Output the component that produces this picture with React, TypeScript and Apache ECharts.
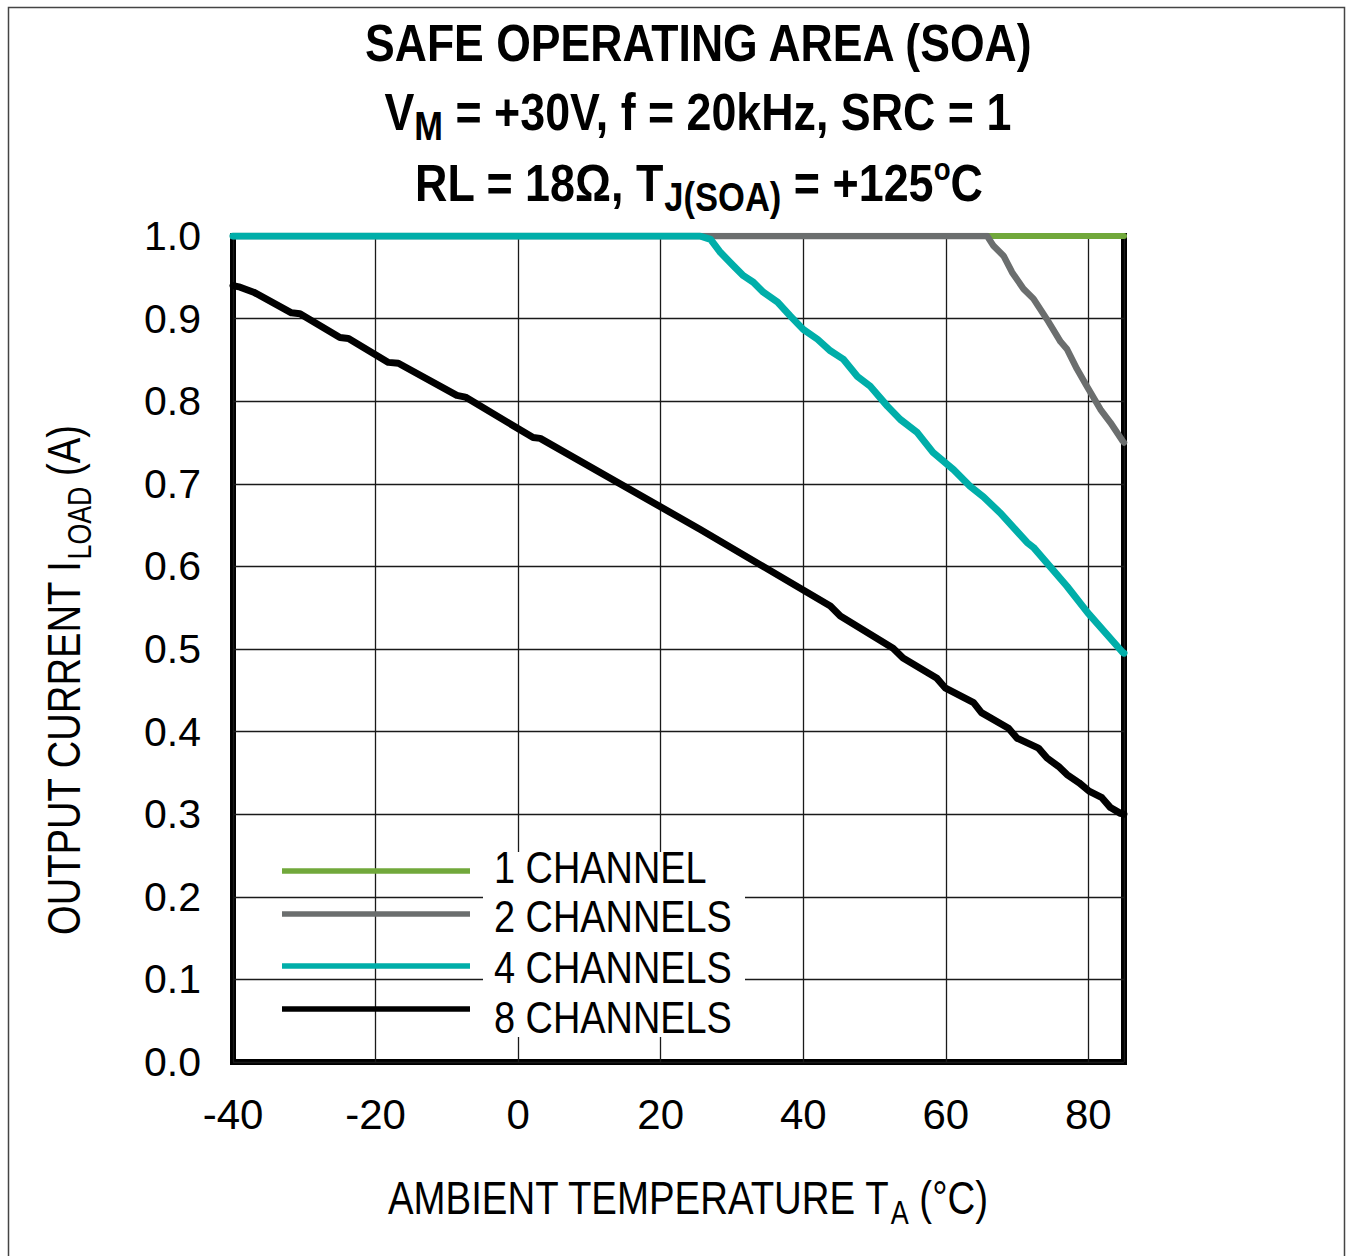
import React, { useEffect, useRef } from "react";
import * as echarts from "echarts";

// ---------- data ----------
const ch1T = [-40, 85];
const ch1I = [1.0, 1.0];

const ch2T = [-40, 65.8, 66.7, 68.1, 69.3, 70.9, 72.3, 74.2, 76.1, 77.0, 78.4, 79.8, 81.7, 83.1, 84.8, 85];
const ch2I = [1.0, 1.0, 0.988, 0.976, 0.956, 0.936, 0.924, 0.899, 0.872, 0.863, 0.839, 0.818, 0.79, 0.774, 0.752, 0.75];

const ch4T = [-40, 25.5, 27.0, 28.4, 30.2, 31.6, 33.0, 34.4, 36.4, 38.2, 40.0, 42.0, 43.8, 45.6, 47.6, 49.4, 51.8, 53.6, 56.0, 58.2, 61.1, 63.4, 65.3, 67.6, 71.4, 72.3, 77.0, 79.9, 84.8, 85];
const ch4I = [1.0, 1.0, 0.996, 0.98, 0.964, 0.952, 0.944, 0.932, 0.92, 0.903, 0.887, 0.875, 0.861, 0.851, 0.83, 0.818, 0.794, 0.778, 0.762, 0.738, 0.717, 0.697, 0.684, 0.665, 0.629, 0.623, 0.576, 0.544, 0.496, 0.495];

const ch8T = [-40, -39.0, -37.1, -31.8, -30.6, -25.0, -23.8, -18.2, -16.8, -8.6, -7.4, 2.1, 3.1, 25.5, 43.8, 45.2, 52.6, 54.0, 58.7, 59.9, 63.9, 65.0, 68.8, 70.0, 73.0, 74.2, 75.8, 77.0, 78.7, 80.1, 81.9, 83.1, 84.5, 85];
const ch8I = [0.94, 0.938, 0.932, 0.907, 0.906, 0.877, 0.876, 0.847, 0.846, 0.807, 0.805, 0.756, 0.755, 0.645, 0.552, 0.54, 0.501, 0.489, 0.465, 0.453, 0.435, 0.423, 0.404, 0.392, 0.38, 0.368, 0.358, 0.348, 0.338, 0.328, 0.32, 0.308, 0.301, 0.3];

const seriesNames = ["1 CHANNEL", "2 CHANNELS", "4 CHANNELS", "8 CHANNELS"];
const seriesColors = ["#71A83B", "#6B6E6E", "#00AEA9", "#000000"];
const seriesWidths = [6, 6.5, 7, 7];
const seriesT = [ch1T, ch2T, ch4T, ch8T];
const seriesI = [ch1I, ch2I, ch4I, ch8I];

const X_MIN = -40;
const X_MAX = 85;
const X_STEP = 20;
const Y_MIN = 0;
const Y_MAX = 1;
const Y_STEP = 0.1;

// ---------- fonts ----------
const FONT = "'Liberation Sans', Arial, Helvetica, sans-serif";

type Seg = { t: string; size: number; bold?: boolean; dy?: number };

function measure(ctx: CanvasRenderingContext2D, s: Seg) {
  ctx.font = `${s.bold ? "bold " : ""}${s.size}px ${FONT}`;
  return ctx.measureText(s.t).width;
}

// A line of text pieces, centred at (cx, cy), squeezed horizontally to targetW.
function buildLine(ctx: CanvasRenderingContext2D, segs: Seg[], cx: number, cy: number, targetW: number, rotation = 0) {
  const widths = segs.map((s) => measure(ctx, s));
  const total = widths.reduce((a, b) => a + b, 0);
  let x = -total / 2;
  const children = segs.map((s, i) => {
    const el = {
      type: "text",
      x,
      y: s.dy || 0,
      style: {
        text: s.t,
        fontSize: s.size,
        fontFamily: FONT,
        fontWeight: s.bold ? "bold" : "normal",
        fill: "#000",
        align: "left",
        verticalAlign: "middle",
      },
    };
    x += widths[i];
    return el;
  });
  return {
    type: "group",
    x: cx,
    y: cy,
    z: 10,
    rotation,
    children: [{ type: "group", scaleX: targetW / total, children }],
  };
}

export default function App() {
  const ref = useRef<HTMLDivElement>(null);

  useEffect(() => {
    if (!ref.current) return;
    const chart = echarts.init(ref.current, undefined, { renderer: "svg" });
    const canvas = document.createElement("canvas");
    const ctx = canvas.getContext("2d") as CanvasRenderingContext2D;

    const TITLE = 52;
    const title1 = buildLine(ctx, [{ t: "SAFE OPERATING AREA (SOA)", size: TITLE, bold: true }], 700, 43, 670);
    const title2 = buildLine(
      ctx,
      [
        { t: "V", size: TITLE, bold: true },
        { t: "M", size: 40, bold: true, dy: 14 },
        { t: " = +30V, f = 20kHz, SRC = 1", size: TITLE, bold: true },
      ],
      698,
      112,
      627
    );
    const title3 = buildLine(
      ctx,
      [
        { t: "RL = 18\u03A9, T", size: TITLE, bold: true },
        { t: "J(SOA)", size: 40, bold: true, dy: 14 },
        { t: " = +125", size: TITLE, bold: true },
        { t: "o", size: 32, bold: true, dy: -14 },
        { t: "C", size: TITLE, bold: true },
      ],
      699,
      183,
      568
    );
    const xName = buildLine(
      ctx,
      [
        { t: "AMBIENT TEMPERATURE T", size: 47 },
        { t: "A", size: 33, dy: 15 },
        { t: " (\u00B0C)", size: 47 },
      ],
      688,
      1198,
      600
    );
    const yName = buildLine(
      ctx,
      [
        { t: "OUTPUT CURRENT I", size: 47 },
        { t: "LOAD", size: 33, dy: 15 },
        { t: " (A)", size: 47 },
      ],
      64,
      680,
      510,
      Math.PI / 2
    );

    const LEG_SIZE = 45;
    const legScale = 238 / measure(ctx, { t: "2 CHANNELS", size: LEG_SIZE });
    const legendLineY = [871, 914, 966, 1009];
    const legendTextY = [867, 916, 967, 1017];
    const legendEls: any[] = [
      { type: "rect", z: 5, shape: { x: 483, y: 852, width: 262, height: 185 }, style: { fill: "#fff" } },
    ];
    seriesNames.forEach((n, i) => {
      legendEls.push({
        type: "line",
        z: 10,
        shape: { x1: 282, y1: legendLineY[i], x2: 470, y2: legendLineY[i] },
        style: { stroke: seriesColors[i], lineWidth: 5.5 },
      });
      legendEls.push({
        type: "text",
        z: 10,
        x: 494,
        y: legendTextY[i],
        scaleX: legScale,
        style: {
          text: n,
          fontSize: LEG_SIZE,
          fontFamily: FONT,
          fill: "#000",
          align: "left",
          verticalAlign: "middle",
        },
      });
    });

    const option: any = {
      animation: false,
      backgroundColor: "#fff",
      grid: {
        left: 233,
        right: 1353 - 1124,
        top: 236,
        bottom: 1256 - 1062,
        show: true,
        borderColor: "#000",
        borderWidth: 6,
        backgroundColor: "transparent",
      },
      xAxis: {
        type: "value",
        min: X_MIN,
        max: X_MAX,
        interval: X_STEP,
        axisLine: { show: false },
        axisTick: { show: false },
        splitLine: { show: true, lineStyle: { color: "#1a1a1a", width: 1.3 } },
        axisLabel: {
          showMaxLabel: false,
          fontFamily: FONT,
          fontSize: 42,
          color: "#000",
          margin: 31,
          formatter: (v: number) => (v === X_MAX ? "" : String(v)),
        },
      },
      yAxis: {
        type: "value",
        min: Y_MIN,
        max: Y_MAX,
        interval: Y_STEP,
        axisLine: { show: false },
        axisTick: { show: false },
        splitLine: { show: true, lineStyle: { color: "#1a1a1a", width: 1.3 } },
        axisLabel: {
          fontFamily: FONT,
          fontSize: 41,
          color: "#000",
          margin: 32,
          formatter: (v: number) => v.toFixed(1),
        },
      },
      series: seriesNames.map((n, i) => ({
        name: n,
        type: "line",
        data: seriesT[i].map((t, k) => [t, seriesI[i][k]]),
        symbol: "none",
        showSymbol: false,
        clip: true,
        z: 3 + i,
        lineStyle: { color: seriesColors[i], width: seriesWidths[i], cap: "round", join: "round" },
      })),
      graphic: {
        elements: [
          {
            type: "rect",
            z: 1,
            shape: { x: 8.5, y: 7.5, width: 1336, height: 1300 },
            style: { fill: "none", stroke: "#444", lineWidth: 1.5 },
          },
          title1,
          title2,
          title3,
          xName,
          yName,
          ...legendEls,
        ],
      },
    };
    chart.setOption(option);
    return () => chart.dispose();
  }, []);

  return <div ref={ref} style={{ position: "fixed", left: 0, top: 0, width: 1353, height: 1256 }} />;
}
